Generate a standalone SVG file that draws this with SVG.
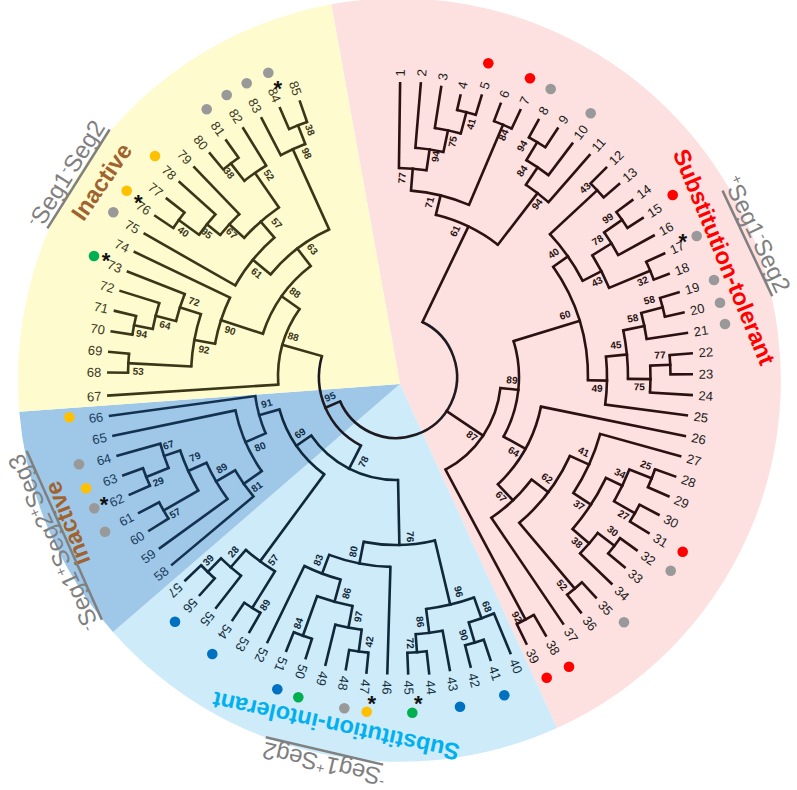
<svg xmlns="http://www.w3.org/2000/svg" width="797" height="790" viewBox="0 0 797 790">
<style>
.br{fill:none;stroke-width:2.6;stroke-linecap:square}
.br circle{stroke-linecap:butt}
.pk{stroke:#2a1212}.yl{stroke:#3a3618}.db{stroke:#143250}.lb{stroke:#10283a}.rt{stroke:#1e1a22}
.lf text{font-family:"Liberation Sans",Arial,sans-serif;font-size:13px;dominant-baseline:central}
.lf .e{text-anchor:end}
.pt{fill:#1c1c1c}.lt{fill:#14303f}.dt{fill:#1b3d60}.yt{fill:#3b3a25}
.bs text{font-family:"Liberation Sans",Arial,sans-serif;font-size:10px;font-weight:bold;text-anchor:middle;dominant-baseline:central}
.cl{font-family:"Liberation Sans",Arial,sans-serif;font-size:23.5px;font-weight:bold;text-anchor:middle;dominant-baseline:central}
.sg text{font-family:"Liberation Sans",Arial,sans-serif;font-size:24px;fill:#808080}
.sg .s{font-size:14.5px}
.sg line{stroke:#808080;stroke-width:2.5}
.ast{font-family:"Liberation Sans",Arial,sans-serif;font-size:22px;font-weight:bold;text-anchor:middle;fill:#111}
</style>
<g id="background">
<path d="M400 384 L331.3 4.3 A382 382 0 0 1 557 728 Z" fill="#FDE0E0"/>
<path d="M400 384 L557 728 A382 382 0 0 1 113 632 Z" fill="#CDEBF8"/>
<path d="M400 384 L113 632 A382 382 0 0 1 19.3 411.8 Z" fill="#9FC8E8"/>
<path d="M400 384 L19.3 411.8 A382 382 0 0 1 331.3 4.3 Z" fill="#FEFBCF"/>
</g>
<g id="tree" transform="translate(396 377)">
<g id="connectors" class="br">
<g class="rt">
<circle r="61" pathLength="360" stroke-dasharray="220.75 400" transform="rotate(-64.3)"/>
<line x1="61" x2="77" transform="rotate(156.45)"/>
<circle r="77" pathLength="360" stroke-dasharray="78.7 400" transform="rotate(117.1)"/>
</g>
<g class="pk">
<line x1="61" x2="167" transform="rotate(-64.3)"/>
<line x1="61" x2="105" transform="rotate(33.95)"/>
<circle r="167" pathLength="360" stroke-dasharray="23.8 400" transform="rotate(-76.2)"/>
<line x1="167" x2="187" transform="rotate(-76.2)"/>
<circle r="187" pathLength="360" stroke-dasharray="18.4 400" transform="rotate(-85.4)"/>
<line x1="187" x2="209" transform="rotate(-85.4)"/>
<circle r="209" pathLength="360" stroke-dasharray="7.6 400" transform="rotate(-89.2)"/>
<line x1="209" x2="293.7" transform="rotate(-89.2)"/>
<line x1="209" x2="230" transform="rotate(-81.6)"/>
<circle r="230" pathLength="360" stroke-dasharray="7.07 400" transform="rotate(-85.17)"/>
<line x1="230" x2="294.6" transform="rotate(-85.17)"/>
<line x1="230" x2="252" transform="rotate(-78.1)"/>
<circle r="252" pathLength="360" stroke-dasharray="6.04 400" transform="rotate(-81.14)"/>
<line x1="252" x2="293.4" transform="rotate(-81.14)"/>
<line x1="252" x2="274" transform="rotate(-75.1)"/>
<circle r="274" pathLength="360" stroke-dasharray="4.03 400" transform="rotate(-77.11)"/>
<line x1="274" x2="288.8" transform="rotate(-77.11)"/>
<line x1="274" x2="294.2" transform="rotate(-73.08)"/>
<line x1="187" x2="274" transform="rotate(-67)"/>
<circle r="274" pathLength="360" stroke-dasharray="4.03 400" transform="rotate(-69.05)"/>
<line x1="274" x2="292.5" transform="rotate(-69.05)"/>
<line x1="274" x2="294.4" transform="rotate(-65.02)"/>
<line x1="167" x2="232" transform="rotate(-52.4)"/>
<circle r="232" pathLength="360" stroke-dasharray="7.05 400" transform="rotate(-55.95)"/>
<line x1="232" x2="294.4" transform="rotate(-48.9)"/>
<line x1="232" x2="253" transform="rotate(-55.95)"/>
<circle r="253" pathLength="360" stroke-dasharray="6.05 400" transform="rotate(-58.98)"/>
<line x1="253" x2="292.4" transform="rotate(-52.93)"/>
<line x1="253" x2="274" transform="rotate(-58.98)"/>
<circle r="274" pathLength="360" stroke-dasharray="4.03 400" transform="rotate(-60.99)"/>
<line x1="274" x2="293.8" transform="rotate(-60.99)"/>
<line x1="274" x2="296.4" transform="rotate(-56.96)"/>
<circle r="105" pathLength="360" stroke-dasharray="55.9 400" transform="rotate(6)"/>
<line x1="105" x2="123" transform="rotate(6)"/>
<circle r="123" pathLength="360" stroke-dasharray="46 400" transform="rotate(-17)"/>
<line x1="123" x2="192" transform="rotate(-17)"/>
<circle r="192" pathLength="360" stroke-dasharray="36.03 400" transform="rotate(-35.05)"/>
<line x1="192" x2="210" transform="rotate(-35.05)"/>
<circle r="210" pathLength="360" stroke-dasharray="15.61 400" transform="rotate(-42.86)"/>
<line x1="210" x2="274.5" transform="rotate(-42.86)"/>
<circle r="274.5" pathLength="360" stroke-dasharray="4.03 400" transform="rotate(-44.87)"/>
<line x1="274.5" x2="296.5" transform="rotate(-44.87)"/>
<line x1="274.5" x2="294.9" transform="rotate(-40.84)"/>
<line x1="210" x2="231" transform="rotate(-27.25)"/>
<circle r="231" pathLength="360" stroke-dasharray="9.1 400" transform="rotate(-31.8)"/>
<line x1="231" x2="253.5" transform="rotate(-31.8)"/>
<circle r="253.5" pathLength="360" stroke-dasharray="6.05 400" transform="rotate(-34.8)"/>
<line x1="253.5" x2="275.3" transform="rotate(-34.8)"/>
<circle r="275.3" pathLength="360" stroke-dasharray="4.03 400" transform="rotate(-36.81)"/>
<line x1="275.3" x2="295.2" transform="rotate(-36.81)"/>
<line x1="275.3" x2="293.4" transform="rotate(-32.78)"/>
<line x1="253.5" x2="293.9" transform="rotate(-28.75)"/>
<line x1="231" x2="275.5" transform="rotate(-22.7)"/>
<circle r="275.5" pathLength="360" stroke-dasharray="4.03 400" transform="rotate(-24.72)"/>
<line x1="275.5" x2="295.2" transform="rotate(-24.72)"/>
<line x1="275.5" x2="291.4" transform="rotate(-20.69)"/>
<line x1="192" x2="211" transform="rotate(0.98)"/>
<circle r="211" pathLength="360" stroke-dasharray="13.09 400" transform="rotate(-5.57)"/>
<line x1="211" x2="293.3" transform="rotate(7.52)"/>
<line x1="211" x2="232" transform="rotate(-5.57)"/>
<circle r="232" pathLength="360" stroke-dasharray="12.07 400" transform="rotate(-11.6)"/>
<line x1="232" x2="253.5" transform="rotate(-11.6)"/>
<circle r="253.5" pathLength="360" stroke-dasharray="6.05 400" transform="rotate(-14.65)"/>
<line x1="253.5" x2="294.2" transform="rotate(-8.6)"/>
<line x1="253.5" x2="275.6" transform="rotate(-14.65)"/>
<circle r="275.6" pathLength="360" stroke-dasharray="4.03 400" transform="rotate(-16.66)"/>
<line x1="275.6" x2="294.9" transform="rotate(-16.66)"/>
<line x1="275.6" x2="294.6" transform="rotate(-12.63)"/>
<line x1="232" x2="254.5" transform="rotate(0.47)"/>
<circle r="254.5" pathLength="360" stroke-dasharray="6.05 400" transform="rotate(-2.56)"/>
<line x1="254.5" x2="296.2" transform="rotate(3.49)"/>
<line x1="254.5" x2="274.5" transform="rotate(-2.56)"/>
<circle r="274.5" pathLength="360" stroke-dasharray="4.03 400" transform="rotate(-4.57)"/>
<line x1="274.5" x2="296.6" transform="rotate(-4.57)"/>
<line x1="274.5" x2="295.7" transform="rotate(-0.54)"/>
<line x1="123" x2="148" transform="rotate(29)"/>
<circle r="148" pathLength="360" stroke-dasharray="34.95 400" transform="rotate(11.55)"/>
<line x1="148" x2="294.8" transform="rotate(11.55)"/>
<line x1="148" x2="170" transform="rotate(46.5)"/>
<circle r="170" pathLength="360" stroke-dasharray="18.78 400" transform="rotate(37.1)"/>
<line x1="170" x2="297.8" transform="rotate(55.88)"/>
<line x1="170" x2="191" transform="rotate(37.1)"/>
<circle r="191" pathLength="360" stroke-dasharray="25.4 400" transform="rotate(24.4)"/>
<line x1="191" x2="212" transform="rotate(24.4)"/>
<circle r="212" pathLength="360" stroke-dasharray="17.62 400" transform="rotate(15.58)"/>
<line x1="212" x2="295" transform="rotate(15.58)"/>
<line x1="212" x2="233" transform="rotate(33.2)"/>
<circle r="233" pathLength="360" stroke-dasharray="15.1 400" transform="rotate(25.65)"/>
<line x1="233" x2="251" transform="rotate(25.65)"/>
<circle r="251" pathLength="360" stroke-dasharray="8.1 400" transform="rotate(21.6)"/>
<line x1="251" x2="275" transform="rotate(21.6)"/>
<circle r="275" pathLength="360" stroke-dasharray="4.03 400" transform="rotate(19.61)"/>
<line x1="275" x2="296.3" transform="rotate(19.61)"/>
<line x1="275" x2="297.4" transform="rotate(23.64)"/>
<line x1="251" x2="275" transform="rotate(29.7)"/>
<circle r="275" pathLength="360" stroke-dasharray="4.03 400" transform="rotate(27.67)"/>
<line x1="275" x2="296.4" transform="rotate(27.67)"/>
<line x1="275" x2="296.8" transform="rotate(31.7)"/>
<line x1="233" x2="255" transform="rotate(40.75)"/>
<circle r="255" pathLength="360" stroke-dasharray="6.09 400" transform="rotate(37.7)"/>
<line x1="255" x2="298.5" transform="rotate(43.79)"/>
<line x1="255" x2="276" transform="rotate(37.7)"/>
<circle r="276" pathLength="360" stroke-dasharray="4.03 400" transform="rotate(35.73)"/>
<line x1="276" x2="296.4" transform="rotate(35.73)"/>
<line x1="276" x2="297.4" transform="rotate(39.76)"/>
<line x1="191" x2="277" transform="rotate(49.8)"/>
<circle r="277" pathLength="360" stroke-dasharray="4.03 400" transform="rotate(47.82)"/>
<line x1="277" x2="297.6" transform="rotate(47.82)"/>
<line x1="277" x2="299.3" transform="rotate(51.85)"/>
<line x1="105" x2="275" transform="rotate(61.9)"/>
<circle r="275" pathLength="360" stroke-dasharray="4.03 400" transform="rotate(59.91)"/>
<line x1="275" x2="298.8" transform="rotate(59.91)"/>
<line x1="275" x2="296.7" transform="rotate(63.94)"/>
</g>
<g class="yl">
<line x1="77" x2="118" transform="rotate(195.8)"/>
<circle r="118" pathLength="360" stroke-dasharray="38.89 400" transform="rotate(176.31)"/>
<line x1="118" x2="288.2" transform="rotate(176.31)"/>
<line x1="118" x2="140" transform="rotate(215.2)"/>
<circle r="140" pathLength="360" stroke-dasharray="34.46 400" transform="rotate(198)"/>
<line x1="140" x2="184" transform="rotate(198)"/>
<circle r="184" pathLength="360" stroke-dasharray="15.15 400" transform="rotate(190.41)"/>
<line x1="184" x2="289.5" transform="rotate(205.56)"/>
<line x1="184" x2="205" transform="rotate(190.41)"/>
<circle r="205" pathLength="360" stroke-dasharray="14.9 400" transform="rotate(182.96)"/>
<line x1="205" x2="268" transform="rotate(182.96)"/>
<circle r="268" pathLength="360" stroke-dasharray="4.11 400" transform="rotate(180.9)"/>
<line x1="268" x2="287.7" transform="rotate(180.9)"/>
<line x1="268" x2="287.8" transform="rotate(185.01)"/>
<line x1="205" x2="227" transform="rotate(197.86)"/>
<circle r="227" pathLength="360" stroke-dasharray="7.19 400" transform="rotate(194.26)"/>
<line x1="227" x2="288" transform="rotate(201.45)"/>
<line x1="227" x2="248" transform="rotate(194.26)"/>
<circle r="248" pathLength="360" stroke-dasharray="6.16 400" transform="rotate(191.18)"/>
<line x1="248" x2="288.5" transform="rotate(197.34)"/>
<line x1="248" x2="267" transform="rotate(191.18)"/>
<circle r="267" pathLength="360" stroke-dasharray="4.11 400" transform="rotate(189.12)"/>
<line x1="267" x2="287.9" transform="rotate(189.12)"/>
<line x1="267" x2="288.7" transform="rotate(193.23)"/>
<line x1="140" x2="162" transform="rotate(232.46)"/>
<circle r="162" pathLength="360" stroke-dasharray="26.33 400" transform="rotate(219.3)"/>
<line x1="162" x2="185" transform="rotate(219.3)"/>
<circle r="185" pathLength="360" stroke-dasharray="19.26 400" transform="rotate(209.67)"/>
<line x1="185" x2="289.2" transform="rotate(209.67)"/>
<line x1="185" x2="206" transform="rotate(228.93)"/>
<circle r="206" pathLength="360" stroke-dasharray="12.86 400" transform="rotate(222.5)"/>
<line x1="206" x2="226" transform="rotate(222.5)"/>
<circle r="226" pathLength="360" stroke-dasharray="7.19 400" transform="rotate(218.92)"/>
<line x1="226" x2="290.9" transform="rotate(226.11)"/>
<line x1="226" x2="243" transform="rotate(218.92)"/>
<circle r="243" pathLength="360" stroke-dasharray="6.16 400" transform="rotate(215.84)"/>
<line x1="243" x2="291.2" transform="rotate(222)"/>
<line x1="243" x2="268" transform="rotate(215.84)"/>
<circle r="268" pathLength="360" stroke-dasharray="4.11 400" transform="rotate(213.78)"/>
<line x1="268" x2="289.6" transform="rotate(213.78)"/>
<line x1="268" x2="290.4" transform="rotate(217.89)"/>
<line x1="206" x2="248" transform="rotate(235.36)"/>
<circle r="248" pathLength="360" stroke-dasharray="6.16 400" transform="rotate(232.28)"/>
<line x1="248" x2="291.8" transform="rotate(238.44)"/>
<line x1="248" x2="270" transform="rotate(232.28)"/>
<circle r="270" pathLength="360" stroke-dasharray="4.11 400" transform="rotate(230.22)"/>
<line x1="270" x2="290.9" transform="rotate(230.22)"/>
<line x1="270" x2="291.2" transform="rotate(234.33)"/>
<line x1="162" x2="250" transform="rotate(245.63)"/>
<circle r="250" pathLength="360" stroke-dasharray="6.17 400" transform="rotate(242.55)"/>
<line x1="250" x2="291.5" transform="rotate(242.55)"/>
<line x1="250" x2="270" transform="rotate(248.72)"/>
<circle r="270" pathLength="360" stroke-dasharray="4.11 400" transform="rotate(246.66)"/>
<line x1="270" x2="292.7" transform="rotate(246.66)"/>
<line x1="270" x2="291.6" transform="rotate(250.77)"/>
</g>
<g class="lb">
<line x1="77" x2="103" transform="rotate(117.1)"/>
<circle r="103" pathLength="360" stroke-dasharray="56.55 400" transform="rotate(88.85)"/>
<line x1="103" x2="168" transform="rotate(88.85)"/>
<circle r="168" pathLength="360" stroke-dasharray="24.5 400" transform="rotate(76.6)"/>
<line x1="168" x2="234" transform="rotate(76.6)"/>
<circle r="234" pathLength="360" stroke-dasharray="12.1 400" transform="rotate(70.5)"/>
<line x1="234" x2="256" transform="rotate(70.5)"/>
<circle r="256" pathLength="360" stroke-dasharray="6 400" transform="rotate(67.5)"/>
<line x1="256" x2="298.9" transform="rotate(67.5)"/>
<line x1="256" x2="277" transform="rotate(73.5)"/>
<circle r="277" pathLength="360" stroke-dasharray="4.03 400" transform="rotate(71.53)"/>
<line x1="277" x2="298.2" transform="rotate(71.53)"/>
<line x1="277" x2="299" transform="rotate(75.56)"/>
<line x1="234" x2="258" transform="rotate(82.6)"/>
<circle r="258" pathLength="360" stroke-dasharray="6.05 400" transform="rotate(79.59)"/>
<line x1="258" x2="297.9" transform="rotate(79.59)"/>
<line x1="258" x2="276" transform="rotate(85.64)"/>
<circle r="276" pathLength="360" stroke-dasharray="4.03 400" transform="rotate(83.62)"/>
<line x1="276" x2="298.2" transform="rotate(83.62)"/>
<line x1="276" x2="296.6" transform="rotate(87.65)"/>
<line x1="168" x2="190" transform="rotate(101.1)"/>
<circle r="190" pathLength="360" stroke-dasharray="18.92 400" transform="rotate(91.68)"/>
<line x1="190" x2="296.4" transform="rotate(91.68)"/>
<line x1="190" x2="210" transform="rotate(110.6)"/>
<circle r="210" pathLength="360" stroke-dasharray="10.56 400" transform="rotate(105.3)"/>
<line x1="210" x2="294.6" transform="rotate(115.86)"/>
<line x1="210" x2="233" transform="rotate(105.3)"/>
<circle r="233" pathLength="360" stroke-dasharray="9.05 400" transform="rotate(100.75)"/>
<line x1="233" x2="255" transform="rotate(100.75)"/>
<circle r="255" pathLength="360" stroke-dasharray="6.04 400" transform="rotate(97.73)"/>
<line x1="255" x2="296.2" transform="rotate(103.77)"/>
<line x1="255" x2="277" transform="rotate(97.73)"/>
<circle r="277" pathLength="360" stroke-dasharray="4.03 400" transform="rotate(95.71)"/>
<line x1="277" x2="297" transform="rotate(95.71)"/>
<line x1="277" x2="296.4" transform="rotate(99.74)"/>
<line x1="233" x2="275" transform="rotate(109.8)"/>
<circle r="275" pathLength="360" stroke-dasharray="4.03 400" transform="rotate(107.8)"/>
<line x1="275" x2="295.3" transform="rotate(107.8)"/>
<line x1="275" x2="295" transform="rotate(111.83)"/>
<line x1="103" x2="121" transform="rotate(145.4)"/>
<circle r="121" pathLength="360" stroke-dasharray="38.04 400" transform="rotate(126.4)"/>
<line x1="121" x2="229" transform="rotate(126.4)"/>
<circle r="229" pathLength="360" stroke-dasharray="9.07 400" transform="rotate(121.9)"/>
<line x1="229" x2="272" transform="rotate(121.9)"/>
<circle r="272" pathLength="360" stroke-dasharray="4.03 400" transform="rotate(119.89)"/>
<line x1="272" x2="294.1" transform="rotate(119.89)"/>
<line x1="272" x2="292.9" transform="rotate(123.92)"/>
<line x1="229" x2="252" transform="rotate(130.97)"/>
<circle r="252" pathLength="360" stroke-dasharray="6.05 400" transform="rotate(127.95)"/>
<line x1="252" x2="292.5" transform="rotate(127.95)"/>
<line x1="252" x2="271" transform="rotate(134)"/>
<circle r="271" pathLength="360" stroke-dasharray="4.03 400" transform="rotate(131.98)"/>
<line x1="271" x2="293.3" transform="rotate(131.98)"/>
<line x1="271" x2="292.8" transform="rotate(136.01)"/>
</g>
<g class="db">
<line x1="121" x2="142" transform="rotate(164.44)"/>
<circle r="142" pathLength="360" stroke-dasharray="15.68 400" transform="rotate(156.6)"/>
<line x1="142" x2="288.5" transform="rotate(172.28)"/>
<line x1="142" x2="164" transform="rotate(156.6)"/>
<circle r="164" pathLength="360" stroke-dasharray="23.3 400" transform="rotate(144.95)"/>
<line x1="164" x2="288.6" transform="rotate(168.25)"/>
<line x1="164" x2="186" transform="rotate(144.95)"/>
<circle r="186" pathLength="360" stroke-dasharray="9.83 400" transform="rotate(140.04)"/>
<line x1="186" x2="292" transform="rotate(140.04)"/>
<line x1="186" x2="208" transform="rotate(149.87)"/>
<circle r="208" pathLength="360" stroke-dasharray="11.59 400" transform="rotate(144.07)"/>
<line x1="208" x2="291.6" transform="rotate(144.07)"/>
<line x1="208" x2="228" transform="rotate(155.66)"/>
<circle r="228" pathLength="360" stroke-dasharray="11.08 400" transform="rotate(150.12)"/>
<line x1="228" x2="268" transform="rotate(150.12)"/>
<circle r="268" pathLength="360" stroke-dasharray="4.03 400" transform="rotate(148.1)"/>
<line x1="268" x2="290.6" transform="rotate(148.1)"/>
<line x1="268" x2="290.6" transform="rotate(152.13)"/>
<line x1="228" x2="245" transform="rotate(161.2)"/>
<circle r="245" pathLength="360" stroke-dasharray="6.04 400" transform="rotate(158.18)"/>
<line x1="245" x2="289.3" transform="rotate(164.22)"/>
<line x1="245" x2="269" transform="rotate(158.18)"/>
<circle r="269" pathLength="360" stroke-dasharray="4.03 400" transform="rotate(156.16)"/>
<line x1="269" x2="291" transform="rotate(156.16)"/>
<line x1="269" x2="289.8" transform="rotate(160.19)"/>
</g>
</g>
<g id="leaves" class="lf">
<g id="leaf-1" class="pt"><text transform="rotate(-89.2) translate(300.7 0)">1</text></g>
<g id="leaf-2" class="pt"><text transform="rotate(-85.17) translate(301.6 0)">2</text></g>
<g id="leaf-3" class="pt"><text transform="rotate(-81.14) translate(300.4 0)">3</text></g>
<g id="leaf-4" class="pt"><text transform="rotate(-77.11) translate(295.8 0)">4</text></g>
<g id="leaf-5" class="pt"><text transform="rotate(-73.08) translate(301.2 0)">5</text></g>
<g id="leaf-6" class="pt"><text transform="rotate(-69.05) translate(299.5 0)">6</text></g>
<g id="leaf-7" class="pt"><text transform="rotate(-65.02) translate(301.4 0)">7</text></g>
<g id="leaf-8" class="pt"><text transform="rotate(-60.99) translate(300.8 0)">8</text></g>
<g id="leaf-9" class="pt"><text transform="rotate(-56.96) translate(303.4 0)">9</text></g>
<g id="leaf-10" class="pt"><text transform="rotate(-52.93) translate(299.4 0)">10</text></g>
<g id="leaf-11" class="pt"><text transform="rotate(-48.9) translate(301.4 0)">11</text></g>
<g id="leaf-12" class="pt"><text transform="rotate(-44.87) translate(303.5 0)">12</text></g>
<g id="leaf-13" class="pt"><text transform="rotate(-40.84) translate(301.9 0)">13</text></g>
<g id="leaf-14" class="pt"><text transform="rotate(-36.81) translate(302.2 0)">14</text></g>
<g id="leaf-15" class="pt"><text transform="rotate(-32.78) translate(300.4 0)">15</text></g>
<g id="leaf-16" class="pt"><text transform="rotate(-28.75) translate(300.9 0)">16</text></g>
<g id="leaf-17" class="pt"><text transform="rotate(-24.72) translate(302.2 0)">17</text></g>
<g id="leaf-18" class="pt"><text transform="rotate(-20.69) translate(298.4 0)">18</text></g>
<g id="leaf-19" class="pt"><text transform="rotate(-16.66) translate(301.9 0)">19</text></g>
<g id="leaf-20" class="pt"><text transform="rotate(-12.63) translate(301.6 0)">20</text></g>
<g id="leaf-21" class="pt"><text transform="rotate(-8.6) translate(301.2 0)">21</text></g>
<g id="leaf-22" class="pt"><text transform="rotate(-4.57) translate(303.6 0)">22</text></g>
<g id="leaf-23" class="pt"><text transform="rotate(-0.54) translate(302.7 0)">23</text></g>
<g id="leaf-24" class="pt"><text transform="rotate(3.49) translate(303.2 0)">24</text></g>
<g id="leaf-25" class="pt"><text transform="rotate(7.52) translate(300.3 0)">25</text></g>
<g id="leaf-26" class="pt"><text transform="rotate(11.55) translate(301.8 0)">26</text></g>
<g id="leaf-27" class="pt"><text transform="rotate(15.58) translate(302 0)">27</text></g>
<g id="leaf-28" class="pt"><text transform="rotate(19.61) translate(303.3 0)">28</text></g>
<g id="leaf-29" class="pt"><text transform="rotate(23.64) translate(304.4 0)">29</text></g>
<g id="leaf-30" class="pt"><text transform="rotate(27.67) translate(303.4 0)">30</text></g>
<g id="leaf-31" class="pt"><text transform="rotate(31.7) translate(303.8 0)">31</text></g>
<g id="leaf-32" class="pt"><text transform="rotate(35.73) translate(303.4 0)">32</text></g>
<g id="leaf-33" class="pt"><text transform="rotate(39.76) translate(304.4 0)">33</text></g>
<g id="leaf-34" class="pt"><text transform="rotate(43.79) translate(305.5 0)">34</text></g>
<g id="leaf-35" class="pt"><text transform="rotate(47.82) translate(304.6 0)">35</text></g>
<g id="leaf-36" class="pt"><text transform="rotate(51.85) translate(306.3 0)">36</text></g>
<g id="leaf-37" class="pt"><text transform="rotate(55.88) translate(304.8 0)">37</text></g>
<g id="leaf-38" class="pt"><text transform="rotate(59.91) translate(305.8 0)">38</text></g>
<g id="leaf-39" class="pt"><text transform="rotate(63.94) translate(303.7 0)">39</text></g>
<g id="leaf-40" class="lt"><text transform="rotate(67.5) translate(305.9 0)">40</text></g>
<g id="leaf-41" class="lt"><text transform="rotate(71.53) translate(305.2 0)">41</text></g>
<g id="leaf-42" class="lt"><text transform="rotate(75.56) translate(306 0)">42</text></g>
<g id="leaf-43" class="lt"><text transform="rotate(79.59) translate(304.9 0)">43</text></g>
<g id="leaf-44" class="lt"><text transform="rotate(83.62) translate(305.2 0)">44</text></g>
<g id="leaf-45" class="lt"><text transform="rotate(87.65) translate(303.6 0)">45</text></g>
<g id="leaf-46" class="lt"><text transform="rotate(91.68) translate(303.4 0)">46</text></g>
<g id="leaf-47" class="lt"><text transform="rotate(95.71) translate(304 0)">47</text></g>
<g id="leaf-48" class="lt"><text transform="rotate(99.74) translate(303.4 0)">48</text></g>
<g id="leaf-49" class="lt"><text transform="rotate(103.77) translate(303.2 0)">49</text></g>
<g id="leaf-50" class="lt"><text transform="rotate(107.8) translate(302.3 0)">50</text></g>
<g id="leaf-51" class="lt"><text transform="rotate(111.83) translate(302 0)">51</text></g>
<g id="leaf-52" class="lt"><text transform="rotate(115.86) translate(301.6 0)">52</text></g>
<g id="leaf-53" class="lt"><text transform="rotate(119.89) translate(301.1 0)">53</text></g>
<g id="leaf-54" class="lt"><text transform="rotate(123.92) translate(299.9 0)">54</text></g>
<g id="leaf-55" class="lt"><text transform="rotate(127.95) translate(299.5 0)">55</text></g>
<g id="leaf-56" class="lt"><text transform="rotate(131.98) translate(300.3 0)">56</text></g>
<g id="leaf-57" class="lt"><text transform="rotate(136.01) translate(299.8 0)">57</text></g>
<g id="leaf-58" class="dt"><text class="e" transform="rotate(140.04) translate(299 0) rotate(180)">58</text></g>
<g id="leaf-59" class="dt"><text class="e" transform="rotate(144.07) translate(298.6 0) rotate(180)">59</text></g>
<g id="leaf-60" class="dt"><text class="e" transform="rotate(148.1) translate(297.6 0) rotate(180)">60</text></g>
<g id="leaf-61" class="dt"><text class="e" transform="rotate(152.13) translate(297.6 0) rotate(180)">61</text></g>
<g id="leaf-62" class="dt"><text class="e" transform="rotate(156.16) translate(298 0) rotate(180)">62</text></g>
<g id="leaf-63" class="dt"><text class="e" transform="rotate(160.19) translate(296.8 0) rotate(180)">63</text></g>
<g id="leaf-64" class="dt"><text class="e" transform="rotate(164.22) translate(296.3 0) rotate(180)">64</text></g>
<g id="leaf-65" class="dt"><text class="e" transform="rotate(168.25) translate(295.6 0) rotate(180)">65</text></g>
<g id="leaf-66" class="dt"><text class="e" transform="rotate(172.28) translate(295.5 0) rotate(180)">66</text></g>
<g id="leaf-67" class="yt"><text class="e" transform="rotate(176.31) translate(295.2 0) rotate(180)">67</text></g>
<g id="leaf-68" class="yt"><text class="e" transform="rotate(180.9) translate(294.7 0) rotate(180)">68</text></g>
<g id="leaf-69" class="yt"><text class="e" transform="rotate(185.01) translate(294.8 0) rotate(180)">69</text></g>
<g id="leaf-70" class="yt"><text class="e" transform="rotate(189.12) translate(294.9 0) rotate(180)">70</text></g>
<g id="leaf-71" class="yt"><text class="e" transform="rotate(193.23) translate(295.7 0) rotate(180)">71</text></g>
<g id="leaf-72" class="yt"><text class="e" transform="rotate(197.34) translate(295.5 0) rotate(180)">72</text></g>
<g id="leaf-73" class="yt"><text class="e" transform="rotate(201.45) translate(295 0) rotate(180)">73</text></g>
<g id="leaf-74" class="yt"><text class="e" transform="rotate(205.56) translate(296.5 0) rotate(180)">74</text></g>
<g id="leaf-75" class="yt"><text class="e" transform="rotate(209.67) translate(296.2 0) rotate(180)">75</text></g>
<g id="leaf-76" class="yt"><text class="e" transform="rotate(213.78) translate(296.6 0) rotate(180)">76</text></g>
<g id="leaf-77" class="yt"><text class="e" transform="rotate(217.89) translate(297.4 0) rotate(180)">77</text></g>
<g id="leaf-78" class="yt"><text class="e" transform="rotate(222) translate(298.2 0) rotate(180)">78</text></g>
<g id="leaf-79" class="yt"><text class="e" transform="rotate(226.11) translate(297.9 0) rotate(180)">79</text></g>
<g id="leaf-80" class="yt"><text class="e" transform="rotate(230.22) translate(297.9 0) rotate(180)">80</text></g>
<g id="leaf-81" class="yt"><text class="e" transform="rotate(234.33) translate(298.2 0) rotate(180)">81</text></g>
<g id="leaf-82" class="yt"><text class="e" transform="rotate(238.44) translate(298.8 0) rotate(180)">82</text></g>
<g id="leaf-83" class="yt"><text class="e" transform="rotate(242.55) translate(298.5 0) rotate(180)">83</text></g>
<g id="leaf-84" class="yt"><text class="e" transform="rotate(246.66) translate(299.7 0) rotate(180)">84</text></g>
<g id="leaf-85" class="yt"><text class="e" transform="rotate(250.77) translate(298.6 0) rotate(180)">85</text></g>
</g>
</g>
<g id="support" class="bs">
<g fill="#2a1212">
<text transform="translate(402 178) rotate(-85.4)">77</text>
<text transform="translate(435.5 156.5) rotate(-81.6)">94</text>
<text transform="translate(452.7 141.7) rotate(-78.1)">75</text>
<text transform="translate(471 124) rotate(-75.1)">41</text>
<text transform="translate(429.5 202.5) rotate(-76.2)">71</text>
<text transform="translate(503.5 135) rotate(-67)">84</text>
<text transform="translate(455 231) rotate(-64.3)">61</text>
<text transform="translate(522 146) rotate(-59)">94</text>
<text transform="translate(522 171) rotate(-56)">84</text>
<text transform="translate(537 204) rotate(-52.4)">94</text>
<text transform="translate(585 188) rotate(-42.9)">43</text>
<text transform="translate(607.7 218.3) rotate(-34.8)">99</text>
<text transform="translate(597.7 240) rotate(-31.8)">78</text>
<text transform="translate(553.5 253.3) rotate(-35)">40</text>
<text transform="translate(597 281.7) rotate(-27.3)">43</text>
<text transform="translate(642.7 281) rotate(-22.7)">32</text>
<text transform="translate(565 315) rotate(-17)">60</text>
<text transform="translate(649.3 300) rotate(-14.7)">58</text>
<text transform="translate(632.7 318.3) rotate(-11.6)">58</text>
<text transform="translate(616 345) rotate(-5.6)">45</text>
<text transform="translate(660 355) rotate(-2.6)">77</text>
<text transform="translate(639.3 386.7) rotate(0.5)">75</text>
<text transform="translate(597 388.3) rotate(1)">49</text>
<text transform="translate(512 380) rotate(6)">89</text>
<text transform="translate(472 436) rotate(34)">87</text>
<text transform="translate(513.7 451.7) rotate(29)">64</text>
<text transform="translate(583.7 451.7) rotate(24.4)">41</text>
<text transform="translate(646 465) rotate(21.6)">25</text>
<text transform="translate(620 473.3) rotate(25.7)">34</text>
<text transform="translate(623.5 515) rotate(29.7)">27</text>
<text transform="translate(579 505) rotate(33.2)">37</text>
<text transform="translate(612.7 531) rotate(37.7)">30</text>
<text transform="translate(577 542.5) rotate(40.8)">38</text>
<text transform="translate(547 478.3) rotate(37.1)">62</text>
<text transform="translate(501 496.7) rotate(46.5)">67</text>
<text transform="translate(562 585) rotate(49.8)">52</text>
<text transform="translate(517 617) rotate(61.9)">92</text>
</g>
<g fill="#10283a">
<text transform="translate(410.3 536.7) rotate(88.85)">76</text>
<text transform="translate(458.7 591.7) rotate(76.6)">96</text>
<text transform="translate(487 606.7) rotate(70.5)">68</text>
<text transform="translate(463.7 635) rotate(73.5)">90</text>
<text transform="translate(420.3 621.7) rotate(82.6)">86</text>
<text transform="translate(410.3 643.3) rotate(85.6)">72</text>
<text transform="translate(353.3 551.7) rotate(-78.9)">80</text>
<text transform="translate(318.3 560) rotate(-69.4)">83</text>
<text transform="translate(346.7 593.3) rotate(-74.7)">86</text>
<text transform="translate(358.3 616.7) rotate(-79.25)">97</text>
<text transform="translate(369.3 641.7) rotate(-82.3)">42</text>
<text transform="translate(298.3 623.3) rotate(-70.2)">84</text>
<text transform="translate(273.3 560) rotate(-53.6)">57</text>
<text transform="translate(265 605) rotate(-58.1)">89</text>
<text transform="translate(233.3 551.7) rotate(-49)">28</text>
<text transform="translate(208.3 560) rotate(-46)">39</text>
<text transform="translate(363.3 461.7) rotate(-62.9)">78</text>
<text transform="translate(300 433.3) rotate(-34.6)">69</text>
</g>
<g fill="#143250">
<text transform="translate(330 396.7) rotate(-23.55)">95</text>
<text transform="translate(266.7 403.3) rotate(-15.56)">91</text>
<text transform="translate(260 446.7) rotate(-23.4)">80</text>
<text transform="translate(256.7 486.7) rotate(-35)">81</text>
<text transform="translate(221.7 468.3) rotate(-30.1)">89</text>
<text transform="translate(195 456.7) rotate(-24.3)">79</text>
<text transform="translate(168.3 445) rotate(-18.8)">67</text>
<text transform="translate(158.3 481.7) rotate(-21.8)">29</text>
<text transform="translate(175 513.3) rotate(-29.9)">57</text>
</g>
<g fill="#3a3618">
<text transform="translate(293.3 336.7) rotate(15.8)">88</text>
<text transform="translate(295 292.7) rotate(35.2)">88</text>
<text transform="translate(230 330.5) rotate(18)">90</text>
<text transform="translate(204 349.5) rotate(10.4)">92</text>
<text transform="translate(138.3 371.2) rotate(3)">53</text>
<text transform="translate(194 301.7) rotate(17.9)">72</text>
<text transform="translate(165 325) rotate(14.3)">64</text>
<text transform="translate(141.7 333.8) rotate(11.2)">94</text>
<text transform="translate(312.5 249) rotate(52.5)">63</text>
<text transform="translate(256.7 273) rotate(39.3)">61</text>
<text transform="translate(276.7 223.3) rotate(48.9)">57</text>
<text transform="translate(231.7 233.3) rotate(42.5)">67</text>
<text transform="translate(206.7 233.3) rotate(38.9)">95</text>
<text transform="translate(183.3 231.7) rotate(35.8)">40</text>
<text transform="translate(269 175) rotate(55.4)">52</text>
<text transform="translate(229 173) rotate(52.3)">38</text>
<text transform="translate(306.7 153.3) rotate(65.6)">98</text>
<text transform="translate(310 130) rotate(68.7)">38</text>
</g>
</g>
<g id="markers">
<g fill="#FF0000">
<circle cx="488.3" cy="63.3" r="5.3"/><circle cx="530" cy="78.3" r="5.3"/><circle cx="672.7" cy="195" r="5.3"/>
<circle cx="682.7" cy="551.7" r="5.3"/><circle cx="569" cy="666.7" r="5.3"/><circle cx="546.7" cy="677.7" r="5.3"/>
</g>
<g fill="#999999">
<circle cx="550.7" cy="89" r="5.3"/><circle cx="590.7" cy="113.3" r="5.3"/><circle cx="696.7" cy="236" r="5.3"/>
<circle cx="714" cy="280" r="5.3"/><circle cx="720" cy="302.7" r="5.3"/><circle cx="725" cy="324" r="5.3"/>
<circle cx="670.7" cy="570.7" r="5.3"/><circle cx="624" cy="622.3" r="5.3"/><circle cx="344.3" cy="708.3" r="5.3"/>
<circle cx="79" cy="464.3" r="5.3"/><circle cx="94.3" cy="508.3" r="5.3"/><circle cx="105" cy="531.7" r="5.3"/>
<circle cx="113.3" cy="212.3" r="5.3"/><circle cx="206.7" cy="109.3" r="5.3"/><circle cx="226.7" cy="95" r="5.3"/>
<circle cx="246.7" cy="83.3" r="5.3"/><circle cx="268.3" cy="72.7" r="5.3"/>
</g>
<g fill="#0070C0">
<circle cx="504.3" cy="695.3" r="5.3"/><circle cx="460" cy="706.7" r="5.3"/><circle cx="277.3" cy="689.3" r="5.3"/>
<circle cx="212.3" cy="654" r="5.3"/><circle cx="175" cy="621.7" r="5.3"/>
</g>
<g fill="#00B050">
<circle cx="412.3" cy="712.7" r="5.3"/><circle cx="298.3" cy="697.3" r="5.3"/><circle cx="94" cy="256" r="5.3"/>
</g>
<g fill="#FFC000">
<circle cx="366.7" cy="711.7" r="5.3"/><circle cx="69.3" cy="417.3" r="5.3"/><circle cx="86" cy="488.3" r="5.3"/>
<circle cx="126.7" cy="190.7" r="5.3"/><circle cx="155" cy="156" r="5.3"/>
</g>
<g class="ast">
<text x="277.7" y="96">*</text><text x="138.3" y="209.5">*</text><text x="106" y="268">*</text>
<text x="682.7" y="249">*</text><text x="418.3" y="710.5">*</text><text x="371.7" y="710.5">*</text>
<text x="104" y="511.5">*</text>
</g>
</g>
<g id="clade-labels">
<text class="cl" fill="#FF0000" transform="translate(724 257) rotate(67.6)">Substitution-tolerant</text>
<text class="cl" fill="#00B0F0" transform="translate(336 726) rotate(-167.8)">Substitution-intolerant</text>
<text class="cl" fill="#A0622E" transform="translate(101.7 181.7) rotate(-55.6)">Inactive</text>
<text class="cl" fill="#A0622E" transform="translate(67.5 523.3) rotate(-111.2)">Inactive</text>
</g>
<g id="segment-labels" class="sg">
<g transform="translate(41 230) rotate(-57.8)"><text><tspan class="s" dy="-8.5">-</tspan><tspan dy="8.5">Seg1</tspan><tspan class="s" dy="-8.5">-</tspan><tspan dy="8.5">Seg2</tspan></text><line x1="4.8" y1="4.5" x2="121.6" y2="4.5"/></g>
<g transform="translate(723 181) rotate(64.8)"><text><tspan class="s" dy="-8.5">+</tspan><tspan dy="8.5">Seg1</tspan><tspan class="s" dy="-8.5">-</tspan><tspan dy="8.5">Seg2</tspan></text><line x1="8.5" y1="4.5" x2="125.3" y2="4.5"/></g>
<g transform="translate(99.7 625.9) rotate(-114)"><text><tspan class="s" dy="-8.5">-</tspan><tspan dy="8.5">Seg1</tspan><tspan class="s" dy="-8.5">+</tspan><tspan dy="8.5">Seg2</tspan><tspan class="s" dy="-8.5">+</tspan><tspan dy="8.5">Seg3</tspan></text><line x1="4.8" y1="4.5" x2="189.8" y2="4.5"/></g>
<g transform="translate(386.8 770.1) rotate(-166.9)"><text><tspan class="s" dy="-8.5">-</tspan><tspan dy="8.5">Seg1</tspan><tspan class="s" dy="-8.5">+</tspan><tspan dy="8.5">Seg2</tspan></text><line x1="4.8" y1="4.5" x2="125.3" y2="4.5"/></g>
</g>
</svg>
